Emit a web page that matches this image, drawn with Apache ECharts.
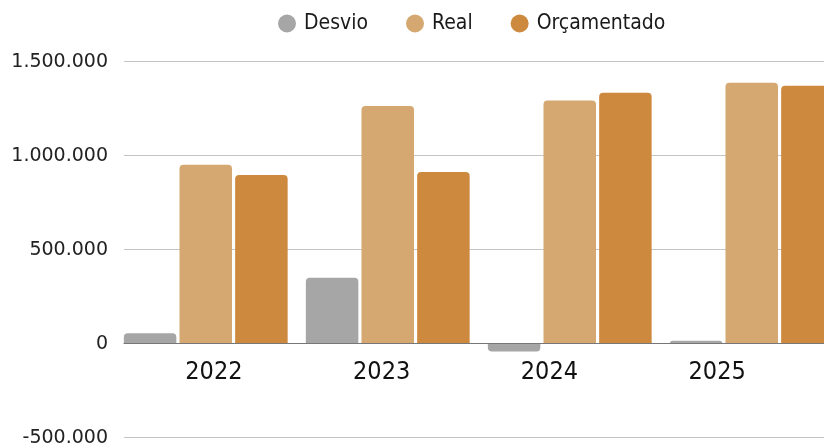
<!DOCTYPE html>
<html>
<head>
<meta charset="utf-8">
<script src="https://cdn.jsdelivr.net/npm/echarts@6/dist/echarts.min.js"></script>
<style>
html,body{margin:0;padding:0;background:#fff;}
#chart{width:824px;height:447px;}
</style>
</head>
<body>
<div id="chart"></div>
<script>
var categories = ['2022', '2023', '2024', '2025'];
var seriesNames = ['Desvio', 'Real', 'Orçamentado'];
var desvio = [55000, 351000, -42000, 16000];
var real = [952000, 1264000, 1293000, 1388000];
var orcamentado = [897000, 913000, 1335000, 1372000];
var yMin = -500000, yMax = 1500000, yStep = 500000;

var condensed = "'DejaVu Sans Condensed', 'Liberation Sans Narrow', sans-serif";
function fmt(v) { return String(v).replace(/\B(?=(\d{3})+(?!\d))/g, '.'); }

var chart = echarts.init(document.getElementById('chart'), null, {renderer: 'canvas'});
var gTop = 61.7, gHeight = 376;
var yHidden = function (i) { return {type: 'value', gridIndex: i, min: yMin, max: yMax, interval: yStep, show: false}; };

chart.setOption({
  animation: false,
  backgroundColor: '#fff',
  legend: {
    left: 273, top: 8,
    itemWidth: 18, itemHeight: 18, itemGap: 38,
    icon: 'circle',
    textStyle: {fontFamily: condensed, fontSize: 21, color: '#1a1a1a', padding: [0, 0, 0, 3]},
    data: seriesNames
  },
  grid: [
    {left: 114.75, width: 728, top: gTop, height: gHeight, containLabel: false, outerBoundsMode: 'none'},
    {left: 124, width: 700, top: gTop, height: gHeight, containLabel: false, outerBoundsMode: 'none'},
    {left: 130, width: 671, top: gTop, height: gHeight * 0.75, containLabel: false, outerBoundsMode: 'none'}
  ],
  xAxis: [
    {type: 'category', gridIndex: 0, data: categories, show: false},
    {type: 'category', gridIndex: 1, data: categories,
      axisLine: {show: true, onZero: true, lineStyle: {color: '#777', width: 1}},
      axisTick: {show: false}, axisLabel: {show: false}, splitLine: {show: false}, z: 5},
    {type: 'category', gridIndex: 2, data: categories, position: 'bottom',
      axisLine: {show: false, onZero: false}, axisTick: {show: false}, splitLine: {show: false},
      axisLabel: {show: true, fontFamily: condensed, fontSize: 25, color: '#111', margin: 16}}
  ],
  yAxis: [
    yHidden(0),
    {type: 'value', gridIndex: 1, min: yMin, max: yMax, interval: yStep,
      axisLine: {show: false}, axisTick: {show: false},
      axisLabel: {show: true, fontFamily: "'DejaVu Sans', sans-serif", fontSize: 19, color: '#222', margin: 16, formatter: fmt},
      splitLine: {show: true, lineStyle: {color: '#c4c4c4', width: 1}}},
    {type: 'value', gridIndex: 2, min: 0, max: yMax, show: false}
  ],
  series: [
    {name: seriesNames[0], type: 'bar', xAxisIndex: 0, yAxisIndex: 0, barWidth: 52.5, barGap: '6%',
      itemStyle: {color: '#a6a6a6'},
      data: desvio.map(function (v) { return {value: v, itemStyle: {borderRadius: v < 0 ? [0, 0, 4, 4] : [4, 4, 0, 0]}}; })},
    {name: seriesNames[1], type: 'bar', xAxisIndex: 0, yAxisIndex: 0, barWidth: 52.5, barGap: '6%',
      itemStyle: {color: '#d4a870', borderRadius: [4, 4, 0, 0]}, data: real},
    {name: seriesNames[2], type: 'bar', xAxisIndex: 0, yAxisIndex: 0, barWidth: 52.5, barGap: '6%',
      itemStyle: {color: '#cd893e', borderRadius: [4, 4, 0, 0]}, data: orcamentado}
  ]
});
</script>
</body>
</html>
